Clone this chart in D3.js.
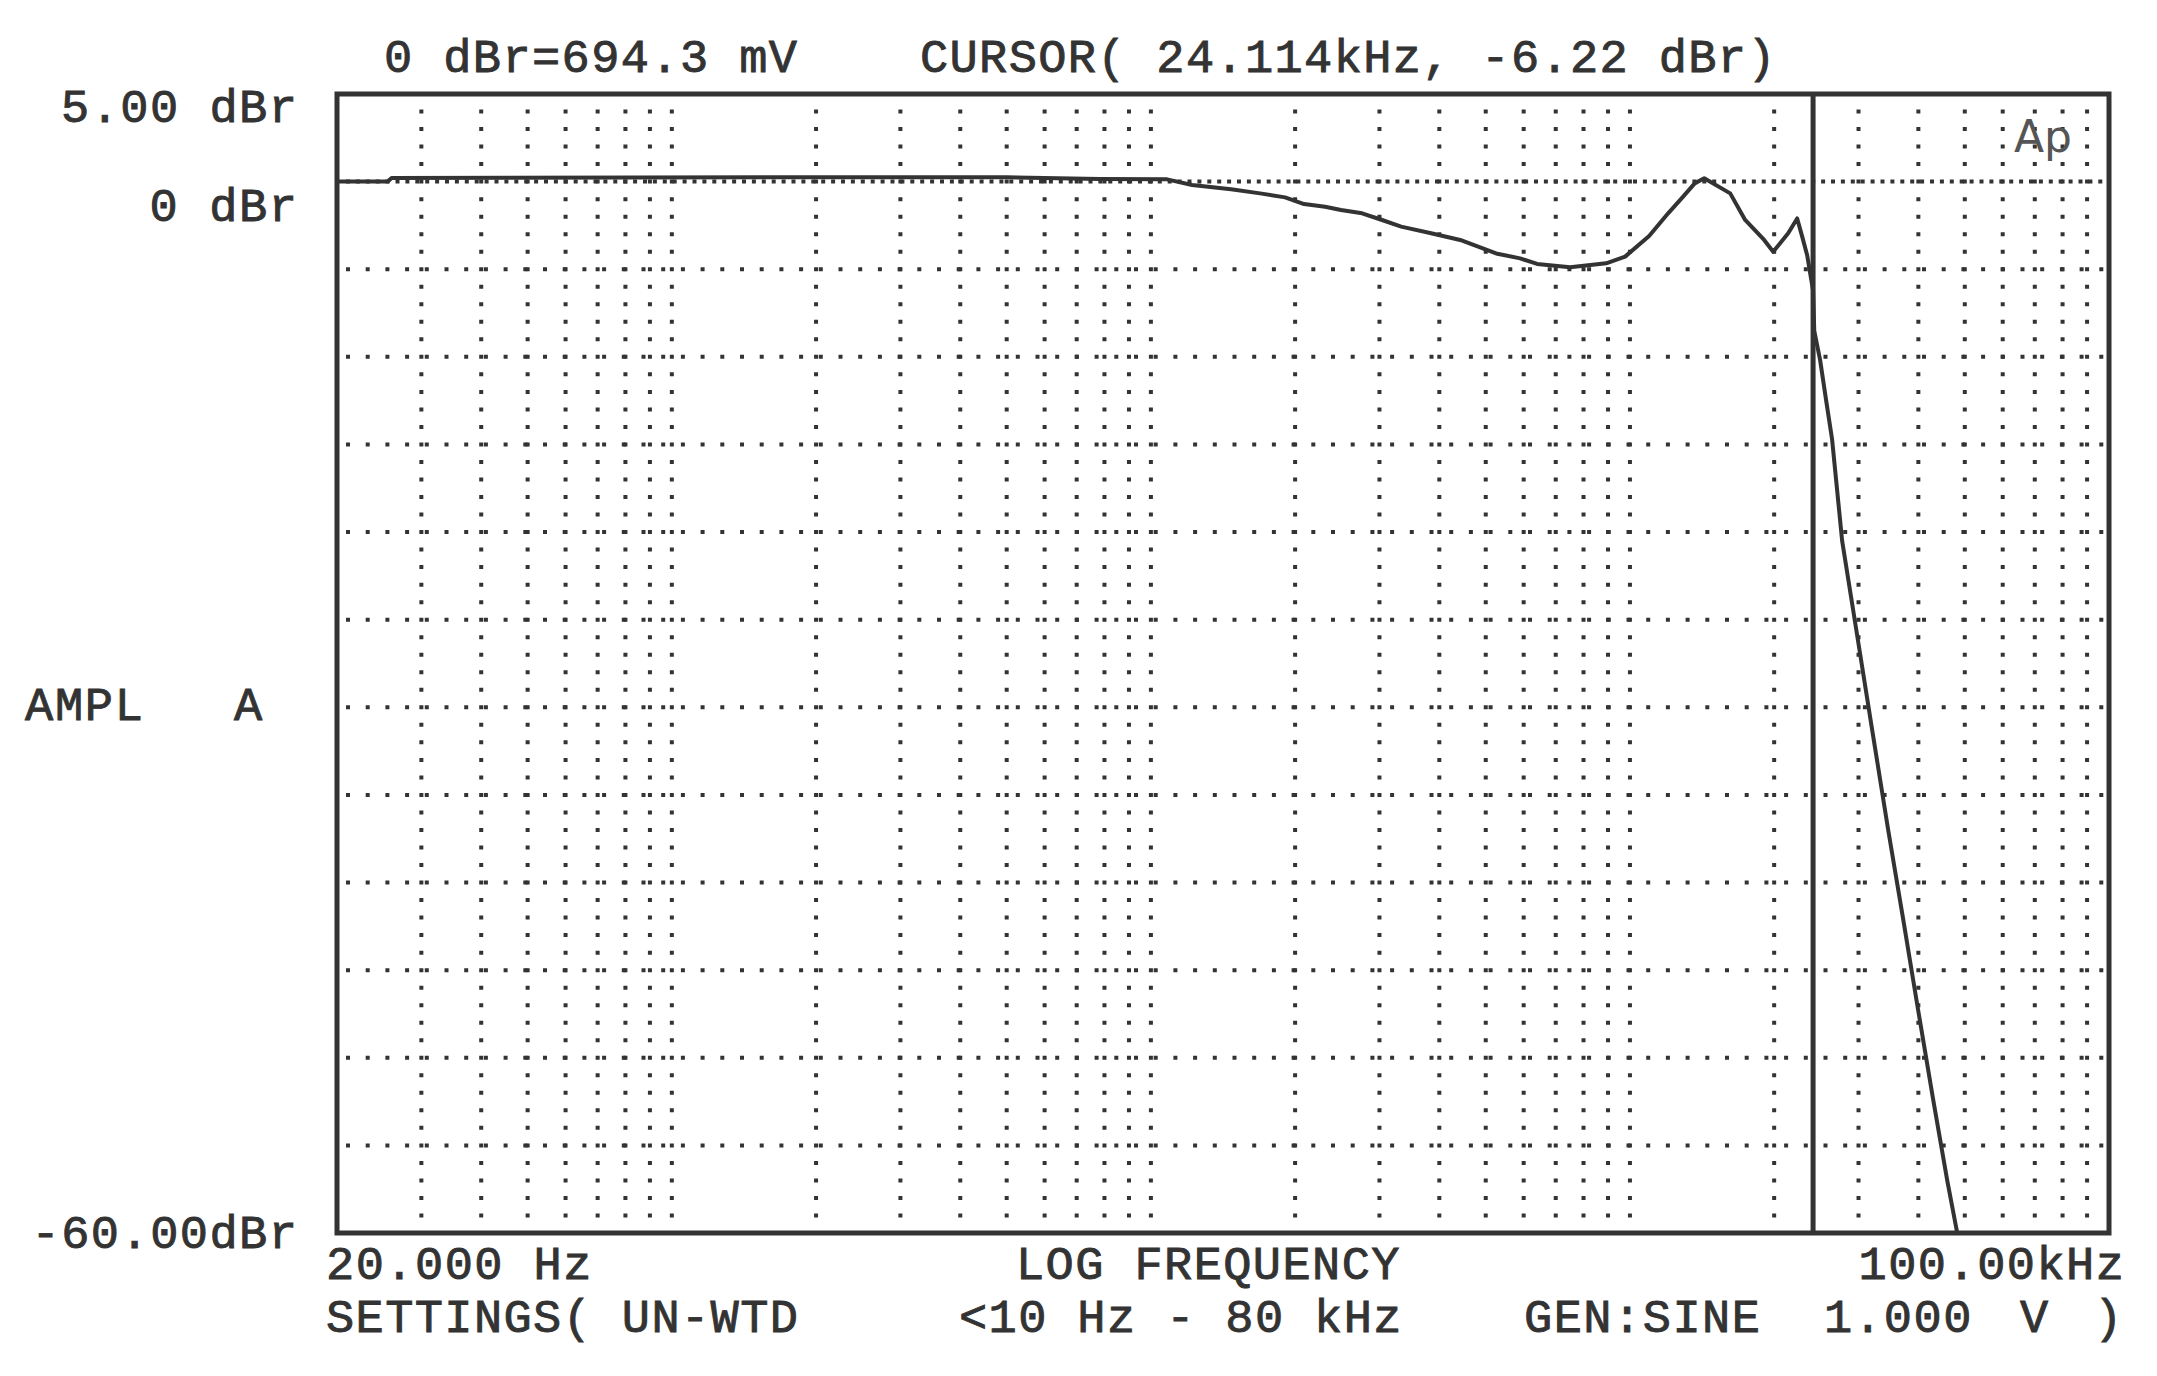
<!DOCTYPE html>
<html>
<head>
<meta charset="utf-8">
<script src="https://cdn.jsdelivr.net/npm/d3@7"></script>
<style>
  html, body { margin: 0; padding: 0; background: #ffffff; }
  svg { display: block; }
  text { font-family: "Liberation Mono", "Courier New", monospace; fill: #333; stroke: #333; stroke-width: 0.9px; white-space: pre; }
</style>
</head>
<body>
<svg id="chart" width="2157" height="1376"></svg>
<script>
// ---------------- data ----------------
// frequency (Hz) of each trace sample
const freqHz = [
  20, 25.5, 26, 200, 500, 783, 1081, 1219, 1470, 1690, 1906, 2088, 2310, 2494, 2760,
  3038, 3330, 3846, 4422, 5256, 5898, 6402, 7500, 8918, 9772, 10966, 12015, 12912,
  13652, 14290, 16192, 17398, 19060, 19908, 21393, 22340, 22886, 23440, 24114,
  24250, 24950, 25680, 26420, 27730, 29810, 32040, 34600, 37190, 39970, 42960,
  45950, 48220
];
// amplitude (dBr) of each trace sample
const amplDbr = [
  0.0, 0.0, 0.2, 0.25, 0.25, 0.15, 0.13, -0.19, -0.44, -0.67, -0.9, -1.28, -1.43, -1.62, -1.81,
  -2.19, -2.57, -2.95, -3.33, -4.1, -4.38, -4.7, -4.89, -4.66, -4.28, -3.1, -1.81, -0.86,
  -0.1, 0.19, -0.67, -2.19, -3.33, -4.0, -2.95, -2.1, -3.14, -4.2, -6.22,
  -8.5, -10.2, -12.5, -14.7, -20.5, -25.9, -31.3, -37.0, -42.1, -47.3, -52.4,
  -57.0, -60.0
];
const cursorFreq = 24114;
const cursorDbr = -6.22;

const freqDomain = [20, 100000];
const dbrDomain = [5, -60];

const yEndLabels = ["5.00 dBr", "0 dBr", "-60.00dBr"];
const xEndLabels = ["20.000 Hz", "100.00kHz"];
const headerTexts = ["0 dBr=694.3 mV", "CURSOR( 24.114kHz, -6.22 dBr)"];
const axisTitles = ["AMPL", "A", "LOG FREQUENCY"];
const settingsTexts = ["SETTINGS( UN-WTD", "<10 Hz - 80 kHz", "GEN:SINE", "1.000", "V", ")"];

// ---------------- layout ----------------
const L = 337, R = 2109, T = 94, B = 1233;
const ink = "#333";
const svg = d3.select("#chart");

const x = d3.scaleLog().domain(freqDomain).range([L, R]);
const y = d3.scaleLinear().domain(dbrDomain).range([T, B]);

const FS = 47;
const PITCH = 29.5;   // character pitch of the printer font

// grid: vertical dotted lines at log ticks
const vTicks = x.ticks().filter(f => f > freqDomain[0] * 1.001 && f < freqDomain[1] * 0.999);
const vPeriod = (B - T) / 65;          // one dot per dB
svg.append("g").selectAll("line").data(vTicks).join("line")
  .attr("x1", d => x(d)).attr("x2", d => x(d))
  .attr("y1", T).attr("y2", B)
  .attr("stroke", ink).attr("stroke-width", 4)
  .attr("stroke-dasharray", `4 ${vPeriod - 4}`)
  .attr("stroke-dashoffset", 2);

// grid: horizontal dotted lines every 5 dB
const hTicks = d3.range(-55, 5, 5).filter(v => v > dbrDomain[1] && v < dbrDomain[0]);
svg.append("g").selectAll("line").data(hTicks).join("line")
  .attr("x1", L + 9).attr("x2", R)
  .attr("y1", d => y(d)).attr("y2", d => y(d))
  .attr("stroke", ink).attr("stroke-width", 4)
  .attr("stroke-dasharray", d => d === 0 ? "4 5.9" : "4 15.7");

// frame
svg.append("rect")
  .attr("x", L).attr("y", T).attr("width", R - L).attr("height", B - T)
  .attr("fill", "none").attr("stroke", ink).attr("stroke-width", 5);

// trace
const pts = freqHz.map((f, i) => [f, amplDbr[i]]);
svg.append("defs").append("clipPath").attr("id", "clip")
  .append("rect").attr("x", L).attr("y", T).attr("width", R - L).attr("height", B - T);
svg.append("path")
  .datum(pts)
  .attr("clip-path", "url(#clip)")
  .attr("fill", "none").attr("stroke", ink).attr("stroke-width", 4)
  .attr("stroke-linejoin", "round")
  .attr("d", d3.line().x(d => x(d[0])).y(d => y(d[1])));

// cursor line
svg.append("line")
  .attr("x1", x(cursorFreq)).attr("x2", x(cursorFreq))
  .attr("y1", T).attr("y2", B)
  .attr("stroke", ink).attr("stroke-width", 5);

// Ap logo
svg.append("text").attr("x", 2014).attr("y", 152)
  .style("font-family", "'DejaVu Sans', sans-serif").style("font-size", "44px")
  .style("fill", "#555").style("stroke", "none").text("Ap");

// texts
function txt(s, xx, yy, anchor) {
  svg.append("text").attr("x", xx).attr("y", yy)
    .attr("text-anchor", anchor || "start")
    .attr("textLength", s.length * PITCH)
    .attr("lengthAdjust", "spacing")
    .style("font-size", FS + "px").text(s);
}
txt(headerTexts[0], 384, 72);
txt(headerTexts[1], 920, 72);

txt(yEndLabels[0], 297, 122, "end");
txt(yEndLabels[1], 297, 221, "end");
txt(yEndLabels[2], 297, 1248, "end");

txt(axisTitles[0], 25, 720);
txt(axisTitles[1], 234, 720);

txt(xEndLabels[0], 326, 1279);
txt(axisTitles[2], 1016, 1279);
txt(xEndLabels[1], 2124, 1279, "end");

txt(settingsTexts[0], 326, 1332);
txt(settingsTexts[1], 959, 1332);
txt(settingsTexts[2], 1524, 1332);
txt(settingsTexts[3], 1824, 1332);
txt(settingsTexts[4], 2020, 1332);
txt(settingsTexts[5], 2094, 1332);
</script>
</body>
</html>
